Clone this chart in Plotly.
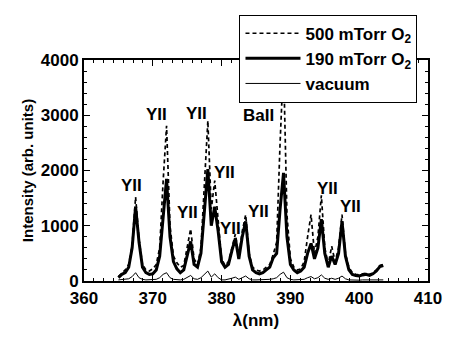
import plotly.graph_objects as go

wavelength = [365.0, 365.5, 366.0, 366.5, 367.0, 367.5, 368.0, 368.5, 369.0, 369.5,
              370.0, 370.5, 371.0, 371.5, 372.0, 372.5, 373.0, 373.5, 374.0, 374.5,
              375.0, 375.5, 376.0, 376.5, 377.0, 377.5, 378.0, 378.5, 379.0, 379.5,
              380.0, 380.5, 381.0, 381.5, 382.0, 382.5, 383.0, 383.5, 384.0, 384.5,
              385.0, 385.5, 386.0, 386.5, 387.0, 387.5, 388.0, 388.5, 389.0, 389.5,
              390.0, 390.5, 391.0, 391.5, 392.0, 392.5, 393.0, 393.5, 394.0, 394.5,
              395.0, 395.5, 396.0, 396.5, 397.0, 397.5, 398.0, 398.5, 399.0, 399.5,
              400.0, 400.5, 401.0, 401.5, 402.0, 402.5, 403.0, 403.5]

o2_500 = [80, 150, 200, 300, 650, 1520, 750, 300, 200, 180,
          220, 300, 600, 1800, 2810, 1000, 450, 330, 250, 280,
          600, 943, 400, 300, 600, 1800, 2900, 1300, 1816, 1100,
          400, 280, 350, 600, 850, 450, 900, 1200, 500, 250,
          200, 180, 200, 250, 300, 480, 700, 2500, 3950, 1200,
          400, 250, 200, 220, 350, 800, 1200, 500, 800, 1550,
          600, 300, 630, 350, 600, 1200, 500, 250, 150, 120,
          110, 130, 140, 120, 150, 200, 280, 300]

o2_190 = [60, 120, 150, 250, 600, 1345, 700, 250, 150, 120,
          130, 200, 450, 1200, 1850, 800, 350, 220, 150, 200,
          450, 716, 300, 250, 500, 1300, 2026, 1000, 1345, 900,
          350, 250, 300, 550, 770, 400, 800, 1080, 450, 200,
          150, 130, 150, 200, 250, 420, 500, 1300, 1956, 800,
          300, 200, 150, 180, 250, 500, 680, 400, 600, 1118,
          500, 250, 450, 300, 500, 1080, 450, 200, 120, 100,
          90, 110, 120, 100, 130, 180, 260, 280]

vacuum = [20, 30, 30, 40, 80, 150, 60, 30, 20, 20,
          25, 30, 60, 120, 150, 60, 30, 20, 20, 30,
          60, 100, 40, 30, 60, 130, 180, 70, 130, 60,
          20, 20, 30, 50, 70, 30, 60, 90, 40, 20,
          20, 20, 20, 30, 30, 40, 60, 120, 160, 60,
          30, 20, 20, 20, 30, 60, 80, 40, 60, 110,
          50, 30, 50, 30, 50, 90, 40, 20, 15, 15,
          15, 20, 20, 15, 20, 20, 25, 20]

label_text = ["YII", "YII", "YII", "YII", "YII", "YII", "YII", "BaII", "YII", "YII"]
label_x = [366.9, 370.5, 375.1, 376.3, 380.4, 381.3, 385.4, 385.4, 395.4, 398.8]
label_y = [1730, 3005, 1240, 3040, 1956, 943, 1258, 2987, 1677, 1345]

FONT = "Liberation Sans, Arial, sans-serif"

fig = go.Figure()
fig.add_trace(go.Scatter(x=wavelength, y=o2_500, mode="lines", name="500 mTorr O<sub>2</sub>",
                         line=dict(color="black", width=1.7, dash="4px,3px")))
fig.add_trace(go.Scatter(x=wavelength, y=o2_190, mode="lines", name="190 mTorr O<sub>2</sub>",
                         line=dict(color="black", width=3)))
fig.add_trace(go.Scatter(x=wavelength, y=vacuum, mode="lines", name="vacuum",
                         line=dict(color="black", width=1)))

for t, x, y in zip(label_text, label_x, label_y):
    fig.add_annotation(x=x, y=y, text=t, showarrow=False,
                       font=dict(family=FONT, size=17, color="black", weight="bold"))

axis_common = dict(showline=True, linecolor="black", linewidth=2, mirror="ticks",
                   ticks="inside", ticklen=6, tickwidth=1, tickcolor="black",
                   showgrid=False, zeroline=False,
                   tickfont=dict(family=FONT, size=17, color="black", weight="bold"))

fig.update_xaxes(range=[360, 410], tick0=360, dtick=10,
                 minor=dict(ticks="inside", ticklen=3, dtick=10/7, tick0=360, tickcolor="black"),
                 ticklabelstandoff=1,
                 title=dict(text="λ(nm)", font=dict(family=FONT, size=17, color="black", weight="bold"),
                            standoff=7),
                 **axis_common)
fig.update_yaxes(range=[0, 4000], tick0=0, dtick=1000,
                 minor=dict(ticks="inside", ticklen=3, dtick=200, tickcolor="black"),
                 title=dict(text="Intensity (arb. units)",
                            font=dict(family=FONT, size=15, color="black", weight="bold"),
                            standoff=4),
                 **axis_common)

fig.update_layout(
    width=454, height=339,
    margin=dict(l=84, r=20, t=60, b=50),
    plot_bgcolor="white", paper_bgcolor="white",
    showlegend=True,
    legend=dict(x=0.452, y=1.205, xanchor="left", yanchor="top",
                bgcolor="white", bordercolor="black", borderwidth=1,
                font=dict(family=FONT, size=17, color="black", weight="bold"),
                itemwidth=55, tracegroupgap=0),
)

fig.write_html("out.html")
